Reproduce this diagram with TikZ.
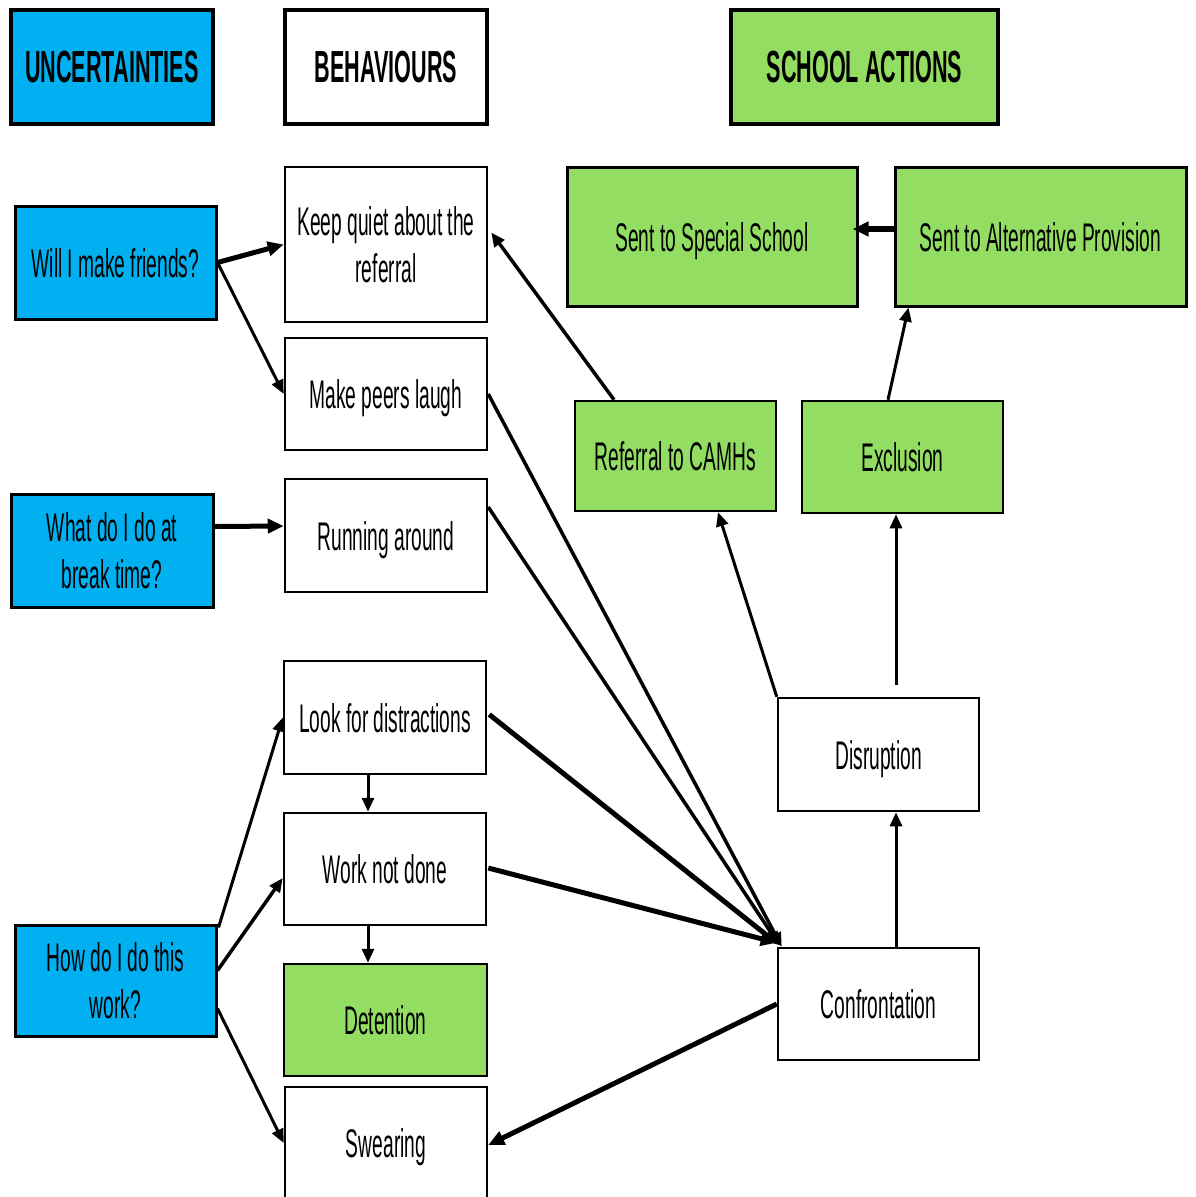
\documentclass[tikz,border=0pt]{standalone}
\usepackage{fontspec}
\setmainfont[FakeStretch=0.48]{Liberation Sans}
\usetikzlibrary{arrows.meta,calc}
\definecolor{ublue}{RGB}{0,176,240}
\definecolor{sgreen}{RGB}{147,221,99}
\begin{document}
\begin{tikzpicture}[x=1pt,y=-1pt,
  box/.style={draw=black, line width=2.5pt, fill=white, inner sep=0pt, align=center,
    minimum width=202pt, minimum height=113pt, font=\fontsize{40}{47}\selectfont},
  one/.style={text height=29pt, text depth=0pt},
  hdr/.style={box, line width=4pt, minimum height=114pt, font=\bfseries\fontsize{45}{52}\selectfont},
  bl/.style={fill=ublue}, gr/.style={fill=sgreen},
  con/.style={line width=3pt, -{Triangle[length=14pt,width=12pt]}},
  thk/.style={line width=5pt, -{Triangle[length=16pt,width=14pt]}}]
\useasboundingbox (0,0) rectangle (1196,1197);
% headers
\node[hdr,bl] (unc) at (112,67) {UNCERTAINTIES};
\node[hdr] (beh) at (386,67) {BEHAVIOURS};
\node[hdr,gr,minimum width=267pt] (sa) at (864.5,67) {SCHOOL ACTIONS};
% uncertainties
\node[box,one,bl,line width=3pt,minimum width=201pt] (will) at (115.5,262.5) {Will I make friends?};
\node[box,bl,line width=3pt] (brk) at (112,550.5) {What do I do at\\break time?};
\node[box,bl,line width=3pt,minimum width=201pt,minimum height=111pt] (how) at (115.5,980.5) {How do I do this\\work?};
% behaviours
\node[box,minimum height=155pt] (keep) at (386,244.5) {Keep quiet about the\\referral};
\node[box,one,minimum height=112pt] (laugh) at (386,394) {Make peers laugh};
\node[box,one] (run) at (386,535.5) {Running around};
\node[box,one] (look) at (385,717.5) {Look for distractions};
\node[box,one,minimum height=112pt] (work) at (385,869) {Work not done};
\node[box,one,gr,minimum width=203pt,minimum height=112pt] (det) at (385.5,1020) {Detention};
\node[box,one,minimum height=112pt] (swear) at (386,1143) {Swearing};
% school actions
\node[box,one,gr,line width=3pt,minimum width=290pt,minimum height=139pt] (special) at (712,236.5) {Sent to Special School};
\node[box,one,gr,line width=3pt,minimum width=291pt,minimum height=139pt] (alt) at (1040.5,236.5) {Sent to Alternative Provision};
\node[box,one,gr,minimum width=201pt,minimum height=110pt] (camhs) at (675.5,456) {Referral to CAMHs};
\node[box,one,gr,minimum width=201pt,minimum height=112pt] (excl) at (902.5,457) {Exclusion};
\node[box,one,minimum width=201pt] (disr) at (878.5,754.5) {Disruption};
\node[box,one,minimum width=201pt,minimum height=112pt] (conf) at (878.5,1004) {Confrontation};
% connectors
\draw[thk] (will.east) -- (keep.west);
\draw[con] (will.east) -- (laugh.west);
\draw[thk] ($(brk.east)+(0,-24)$) -- ($(run.west)+(0,-9.5)$);
\draw[con] ($(how.north east)+(1,4)$) -- (look.west);
\draw[con,line width=3.5pt] ($(how.east)+(0,-10)$) -- ($(work.west)+(0,9)$);
\draw[con] ($(how.east)+(0,28)$) -- (swear.west);
\draw[con] ($(look.south)+(-17,0)$) -- ($(work.north)+(-17,0)$);
\draw[con] ($(work.south)+(-17,0)$) -- ($(det.north)+(-17.5,0)$);
\draw[con,line width=3.5pt] ($(camhs.north)+(-61.5,0)$) -- ($(keep.east)+(3,-12)$);
\draw[con,line width=3.5pt] (laugh.east) -- ($(conf.north west)+(5,0)$);
\draw[con,line width=3.5pt] ($(run.east)+(0,-28.5)$) -- ($(conf.north west)+(3,-1)$);
\draw[thk] ($(look.east)+(2,-3)$) -- ($(conf.north west)+(2,-2)$);
\draw[thk] ($(work.east)+(1,-1)$) -- ($(conf.north west)+(0,-4)$);
\draw[thk] (conf.west) -- ($(swear.east)+(0,2)$);
\draw[con] ($(conf.north)+(17.5,0)$) -- ($(disr.south)+(17.5,0)$);
\draw[con] (disr.north west) -- ($(camhs.south)+(42.5,0)$);
\draw[con] ($(disr.north)+(17.5,-12)$) -- ($(excl.south)+(-6.5,0)$);
\draw[con] ($(excl.north)+(-14.5,0)$) -- ($(alt.south west)+(15,0)$);
\draw[thk,line width=6pt] ($(alt.west)+(0,-7.5)$) -- ($(special.east)+(-6,-7.5)$);
\end{tikzpicture}
\end{document}
